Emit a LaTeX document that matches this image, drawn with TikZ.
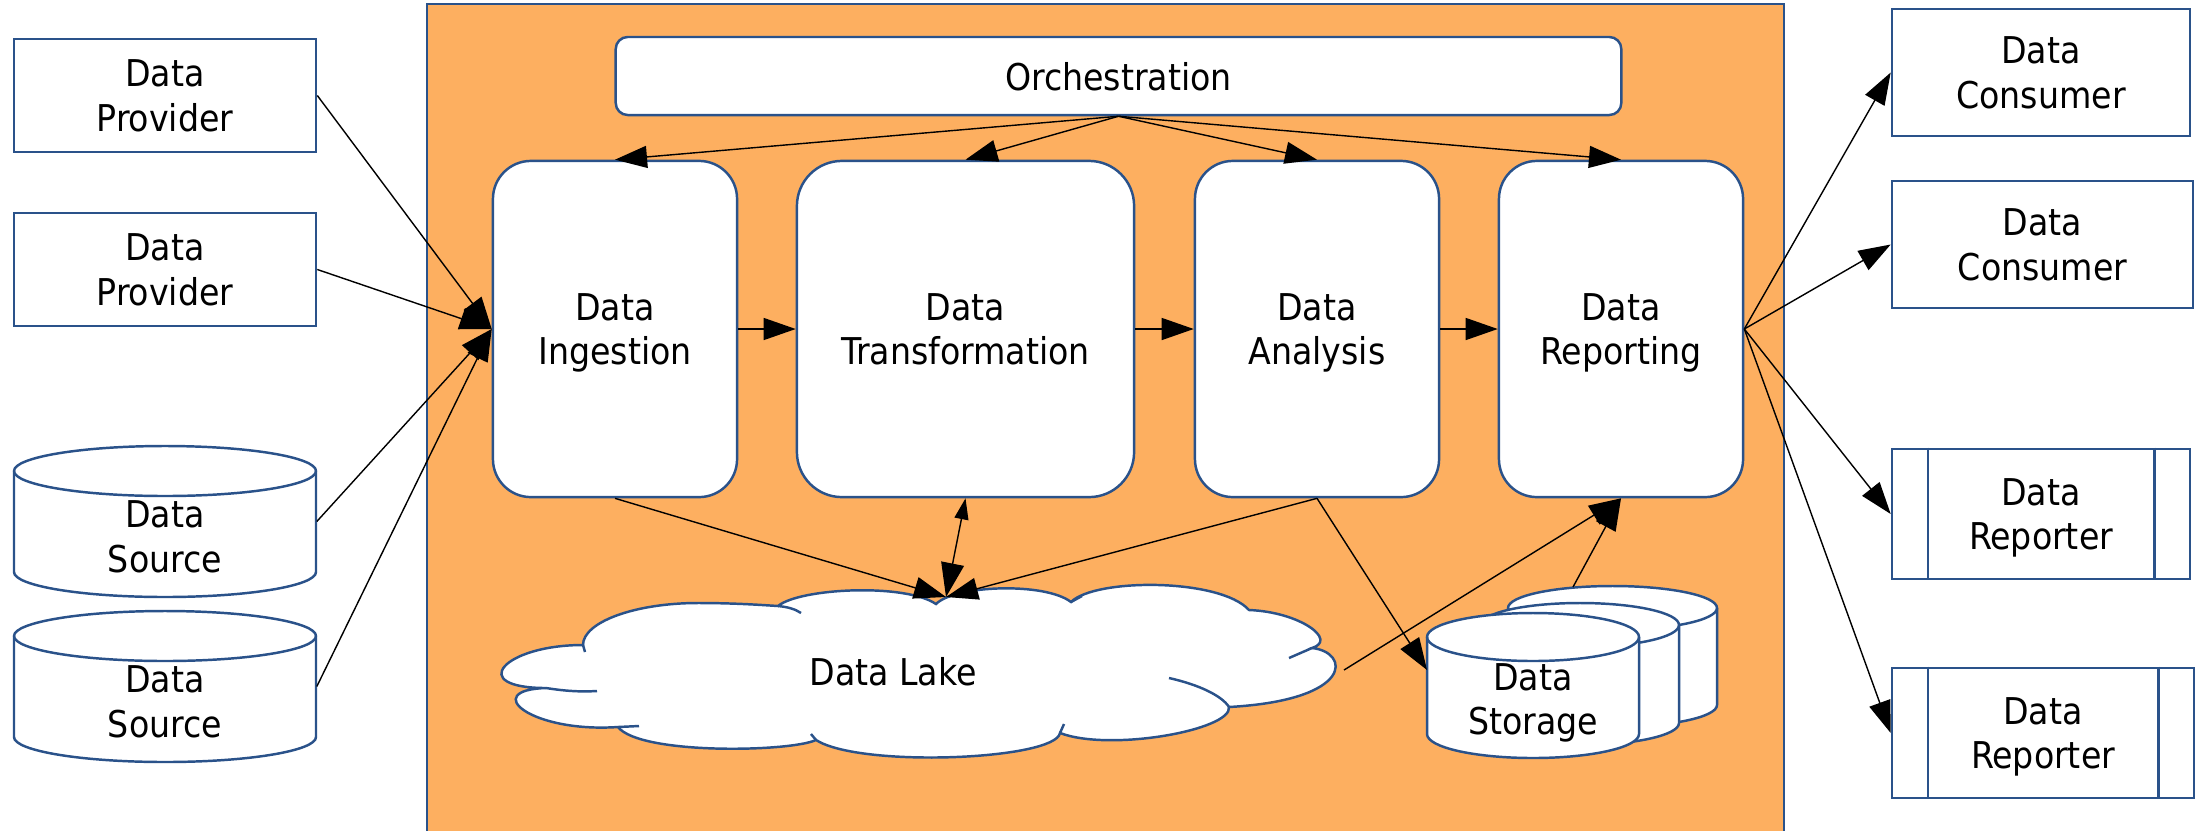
\documentclass[tikz,border=0pt]{standalone}
\usepackage{fontspec}
\setmainfont{DejaVu Sans Condensed}
\usetikzlibrary{arrows.meta}

\definecolor{panel}{RGB}{253,175,96}
\definecolor{edge}{RGB}{42,82,138}

% cylinder: left x, right x, top y, bottom y, ellipse half height
\newcommand{\drawdrum}[5]{%
  \filldraw[outline, fill=white]
    (#1,#3-#5) -- (#1,#4+#5)
    arc[start angle=180, end angle=360, x radius={(#2-#1)/2}, y radius=#5]
    -- (#2,#3-#5)
    arc[start angle=0, end angle=180, x radius={(#2-#1)/2}, y radius=#5]
    -- cycle;
  \draw[outline] (#1,#3-#5)
    arc[start angle=180, end angle=360, x radius={(#2-#1)/2}, y radius=#5];
}

\begin{document}
\begin{tikzpicture}[x=0.01cm, y=0.01cm,
  every node/.style={font=\fontsize{10.5}{12.7}\selectfont, align=center, inner sep=0pt},
  outline/.style={draw=edge, line width=0.7pt},
  box/.style={outline, fill=white, rectangle, text depth=-2pt},
  stage/.style={box, rounded corners=0.38cm, minimum height=3.36cm},
  spot/.style={rectangle, minimum width=3.02cm, minimum height=1.51cm},
  link/.style={draw=black, line width=0.4pt, -{Triangle[length=0.32cm,width=0.22cm]}},
]
\useasboundingbox (0,0) rectangle (2201,-830);

% platform panel
\fill[panel] (427,-4) rectangle (1784,-834);
\draw[outline] (427,-834) -- (427,-4) -- (1784,-4) -- (1784,-834);

% sources on the left
\node[box, minimum width=3.02cm, minimum height=1.13cm] (prov1) at (165,-95.5) {Data\\Provider};
\node[box, minimum width=3.02cm, minimum height=1.13cm] (prov2) at (165,-269.5) {Data\\Provider};
\drawdrum{14}{316}{-446}{-597}{25}
\drawdrum{14}{316}{-611}{-762}{25}
\node[spot] (src1) at (165,-521.5) {};
\node[spot] (src2) at (165,-686.5) {};
\node (src1label) at (165,-537) {Data\\Source};
\node (src2label) at (165,-702) {Data\\Source};

% orchestration and processing stages
\node[box, rounded corners=0.12cm, minimum width=10.05cm, minimum height=0.78cm] (orch) at (1118.5,-76) {Orchestration};
\node[stage, minimum width=2.44cm] (ing) at (615,-329) {Data\\Ingestion};
\node[stage, rounded corners=0.45cm, minimum width=3.37cm] (trans) at (965.5,-329) {Data\\Transformation};
\node[stage, minimum width=2.44cm] (ana) at (1317,-329) {Data\\Analysis};
\node[stage, minimum width=2.44cm] (rep) at (1621,-329) {Data\\Reporting};

% data lake cloud
\filldraw[outline, fill=white]
  (546,-688) .. controls (466,-688) and (503,-645) .. (583,-645)
  .. controls (583,-622) and (635,-603) .. (698,-603)
  .. controls (735,-603) and (762,-605) .. (778,-606)
  .. controls (800,-588) and (905,-583) .. (936,-604)
  .. controls (955,-585) and (1045,-582) .. (1071,-602)
  .. controls (1095,-578) and (1220,-578) .. (1249,-610)
  .. controls (1300,-612) and (1338,-640) .. (1312,-648)
  .. controls (1350,-652) and (1355,-700) .. (1229,-707)
  .. controls (1232,-730) and (1110,-752) .. (1060,-733)
  .. controls (1055,-760) and (860,-768) .. (816,-740)
  .. controls (790,-752) and (640,-755) .. (618,-727)
  .. controls (530,-733) and (480,-690) .. (546,-688) -- cycle;
\draw[outline] (546,-688) .. controls (565,-691) and (580,-692) .. (597,-691);
\draw[outline] (583,-645) -- (585,-652);
\draw[outline] (778,-606) .. controls (788,-607) and (795,-609) .. (801,-613);
\draw[outline] (1071,-602) -- (1082,-596);
\draw[outline] (1312,-648) -- (1289,-658);
\draw[outline] (1169,-678) .. controls (1200,-685) and (1222,-696) .. (1229,-707);
\draw[outline] (1060,-733) -- (1064,-724);
\draw[outline] (816,-740) -- (811,-734);
\draw[outline] (618,-727) -- (639,-726);
\node (lake) at (893,-672) {Data Lake};
\coordinate (lake-top) at (946,-597);
\coordinate (lake-east) at (1344,-670);

% data storage stack
\drawdrum{1508}{1717}{-586}{-727}{22}
\drawdrum{1481}{1679}{-603}{-745}{22}
\drawdrum{1427}{1639}{-613}{-758}{24}
\node (stor) at (1533,-703) {Data\\Storage};
\coordinate (stor-in) at (1427,-670);
\coordinate (stor-out) at (1573,-587);

% consumers and reporters on the right
\node[box, minimum width=2.98cm, minimum height=1.27cm] (cons1) at (2041,-72.5) {Data\\Consumer};
\node[box, minimum width=3.01cm, minimum height=1.27cm] (cons2) at (2042.5,-244.5) {Data\\Consumer};
\node[box, minimum width=2.98cm, minimum height=1.30cm] (rptr1) at (2041,-514) {Data\\Reporter};
\node[box, minimum width=3.02cm, minimum height=1.30cm] (rptr2) at (2043,-733) {Data\\Reporter};
\foreach \r in {rptr1,rptr2}{
  \draw[outline] ([xshift=0.37cm]\r.north west) -- ([xshift=0.37cm]\r.south west);
  \draw[outline] ([xshift=-0.37cm]\r.north east) -- ([xshift=-0.37cm]\r.south east);
}

% connectors
\draw[link] (orch.south) -- (ing.north);
\draw[link] (orch.south) -- (trans.north);
\draw[link] (orch.south) -- (ana.north);
\draw[link] (orch.south) -- (rep.north);

\draw[link] (prov1.east) -- (ing.west);
\draw[link] (prov2.east) -- (ing.west);
\draw[link] (src1.east) -- (ing.west);
\draw[link] (src2.east) -- (ing.west);

\draw[link] (ing.east) -- (trans.west);
\draw[link] (trans.east) -- (ana.west);
\draw[link] (ana.east) -- (rep.west);

\draw[link] (ing.south) -- (lake-top);
\draw[link] (ana.south) -- (lake-top);
\draw[link, {Triangle[length=0.21cm,width=0.14cm]}-{Triangle[length=0.34cm,width=0.23cm]}] (trans.south) -- (lake-top);
\draw[link] (ana.south) -- (stor-in);
\draw[link] (stor-out) -- (rep.south);
\draw[link] (lake-east) -- (rep.south);

\draw[link] (rep.east) -- (cons1.west);
\draw[link] (rep.east) -- (cons2.west);
\draw[link] (rep.east) -- (rptr1.west);
\draw[link] (rep.east) -- (rptr2.west);
\end{tikzpicture}
\end{document}
